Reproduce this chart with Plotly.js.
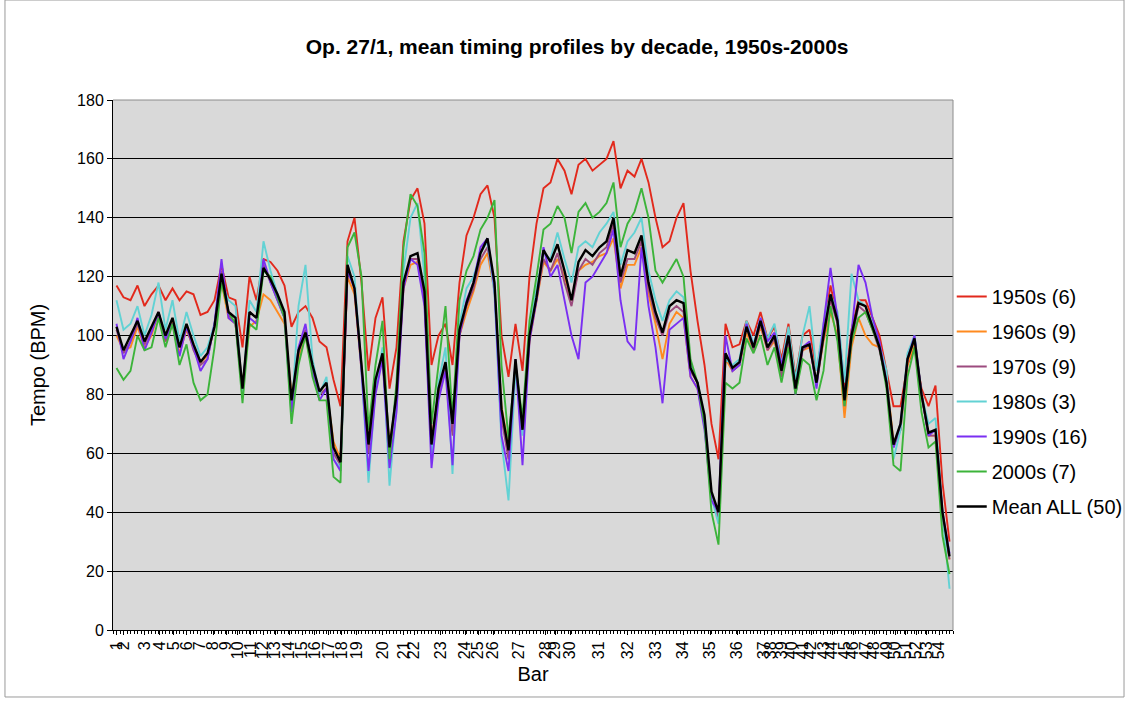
<!DOCTYPE html>
<html><head><meta charset="utf-8">
<script src="https://cdn.plot.ly/plotly-3.0.1.min.js"></script>
<style>body{margin:0;background:#fff}#chart{width:1125px;height:701px}</style>
</head><body><div id="chart"></div>
<script>
// Bar numbers and the beat position at which each bar starts
const barNumbers = [1,2,3,4,5,6,7,8,9,10,11,12,13,14,15,16,17,18,19,20,21,22,23,24,25,26,27,28,29,30,31,32,33,34,35,36,37,38,39,40,41,42,43,44,45,46,47,48,49,50,51,52,53,54];
const barStarts = [1.1,3.1,9.1,13.4,17.4,21.1,24.9,28.6,32.3,35.7,39.4,42.9,46.3,50.3,54,57.7,61.7,65.4,69.7,77.1,83.1,86,93.7,100.6,104.3,108.6,116,123.7,126.3,130.6,138.9,147.1,155.1,162.9,170.6,178.3,186,188,191,194,197,199.5,203,205.5,209,211.5,215,217.5,221,223.5,226.5,229.5,232.5,236];

const s1950 = [117,113,112,117,110,114,117,112,116,112,115,114,107,108,112,124,113,112,96,120,112,126,125,122,117,103,108,110,106,98,96,85,76,
132,140,118,88,106,113,82,96,132,146,150,138,90,100,104,90,118,134,140,148,151,140,100,86,104,88,120,138,150,152,160,156,148,158,160,156,158,160,166,150,156,154,160,152,140,130,132,140,145,122,105,90,70,58,
104,96,97,105,100,108,99,103,92,104,86,100,102,88,102,117,106,82,102,112,112,106,100,88,76,76,90,96,82,76,83,50,30];
const s1960 = [100,95,96,103,96,100,108,98,105,94,102,96,91,93,103,118,106,104,83,103,105,114,112,108,104,80,92,100,88,80,82,64,58,
120,114,88,64,84,92,63,78,116,124,125,112,65,80,90,72,100,108,115,124,128,115,76,62,90,70,98,112,125,122,126,120,112,122,124,125,127,128,133,116,124,124,130,114,104,92,104,108,106,86,82,70,46,38,
92,88,90,101,95,103,95,98,88,98,82,95,96,84,98,108,100,72,96,106,100,97,96,86,64,68,90,98,80,66,66,38,24];
const s1970 = [102,94,98,104,97,102,107,98,104,96,103,95,90,92,104,122,107,104,80,108,106,124,118,112,106,76,94,102,89,80,82,60,56,
122,117,90,60,84,94,60,79,118,126,126,112,60,80,90,66,100,110,116,126,130,116,72,58,90,68,100,112,126,122,128,118,110,122,126,124,128,130,138,118,126,126,132,116,106,100,108,110,108,88,84,70,45,38,
94,88,90,103,95,104,95,99,86,99,80,95,97,83,99,112,104,76,98,110,108,102,95,84,62,68,92,99,80,66,66,38,24];
const s1980 = [112,102,104,110,100,107,118,102,112,98,108,100,93,96,104,118,112,110,80,112,108,132,122,114,106,73,110,124,92,80,86,58,55,
127,120,88,50,82,96,49,76,122,140,145,120,58,84,96,53,104,116,120,128,132,114,64,44,88,66,102,116,128,126,135,126,118,130,132,130,135,138,142,124,132,135,140,122,112,105,112,115,113,90,84,72,45,36,
92,90,92,105,97,106,99,104,90,103,85,100,110,88,104,114,108,84,121,112,110,104,97,88,58,68,94,100,80,70,72,40,14];
const s1990 = [104,92,98,106,95,101,108,99,104,93,103,96,88,92,104,126,106,104,82,106,104,126,118,112,106,74,96,104,88,78,82,58,54,
122,116,88,54,80,92,55,74,116,126,124,110,55,78,88,56,100,112,118,130,133,116,66,54,92,56,98,112,130,120,124,112,100,92,118,120,124,128,136,112,98,95,130,110,96,77,102,104,106,86,82,68,44,40,
100,88,90,104,96,106,98,101,90,100,80,96,98,82,104,123,106,78,102,124,118,106,98,84,62,70,92,100,80,66,68,40,26];
const s2000 = [89,85,88,100,95,96,106,96,104,90,97,84,78,80,96,118,108,104,77,104,102,122,120,113,106,70,90,100,86,78,78,52,50,
130,135,120,68,90,105,58,84,130,148,144,128,70,90,110,72,112,122,127,136,140,146,90,65,90,72,105,120,136,138,144,140,128,142,145,140,142,145,152,130,138,142,150,140,122,118,122,126,120,92,84,70,40,29,
84,82,84,99,94,100,90,96,84,96,80,92,90,78,88,110,98,76,98,106,108,102,96,82,56,54,86,96,74,62,64,32,19];
const meanAll = [103,95,100,105,98,103,108,100,106,96,104,97,91,94,103,121,108,106,82,108,106,123,119,114,108,78,95,101,90,81,84,62,57,
124,116,90,63,85,94,62,80,118,127,128,115,63,82,91,70,102,111,118,128,133,118,75,61,92,68,100,113,129,125,131,122,112,125,129,127,130,132,140,120,129,128,134,118,108,101,110,112,111,89,84,73,47,40,
94,89,91,103,96,105,96,100,88,100,82,96,97,84,100,114,105,78,100,111,110,103,96,84,63,70,92,99,80,67,68,40,25];

const seriesNames = ['1950s (6)','1960s (9)','1970s (9)','1980s (3)','1990s (16)','2000s (7)','Mean ALL (50)'];
const seriesData = [s1950,s1960,s1970,s1980,s1990,s2000,meanAll];
const seriesColors = ['#e2291c','#ff8a1f','#9c4b7e','#62d2d4','#7a2ff2','#3cb43a','#000000'];

// sample positions (beat index) for the readings
const beatIndex = [];
for (let k = 0; k < meanAll.length; k++) beatIndex.push(1 + 2*k);

const traces = seriesData.map((ys, i) => ({
  type: 'scatter', mode: 'lines', x: beatIndex, y: ys, name: seriesNames[i],
  legendgroup: 'g' + i,
  line: {color: seriesColors[i], width: i === 6 ? 2.4 : 1.9},
  hoverinfo: 'skip'
}));

const F = '"Liberation Sans", Arial, Helvetica, sans-serif';
const layout = {
  width: 1125, height: 701,
  margin: {l: 113, r: 172, t: 100, b: 71, autoexpand: false},
  paper_bgcolor: '#ffffff', plot_bgcolor: '#d9d9d9',
  font: {family: F, color: '#000', size: 16},
  title: {text: 'Op. 27/1, mean timing profiles by decade, 1950s-2000s', font: {family: F, size: 21, weight: 'bold'}, x: 0.513, xanchor: 'center', y: 0.934, yanchor: 'middle'},
  showlegend: true,
  legend: {x: 0.9985, xanchor: 'left', y: 0.431, yanchor: 'middle', font: {family: F, size: 20}, tracegroupgap: 6, bgcolor: 'rgba(0,0,0,0)', itemwidth: 30},
  xaxis: {
    range: [0, 240], showgrid: false, zeroline: false, automargin: false,
    showline: true, linecolor: '#000', linewidth: 1,
    tickmode: 'array', tickvals: barStarts, ticktext: barNumbers.map(String),
    tickangle: -90, ticks: 'outside', ticklen: 4, tickcolor: '#000', tickfont: {family: F, size: 16},
    minor: {tickmode: 'linear', tick0: 0, dtick: 1, ticks: 'outside', ticklen: 3, tickcolor: '#000', showgrid: false},
    title: {text: 'Bar', font: {family: F, size: 20}, standoff: 8}
  },
  yaxis: {
    range: [0, 180], dtick: 20, tick0: 0, showgrid: true, gridcolor: '#000', gridwidth: 1,
    zeroline: false, showline: true, linecolor: '#000', linewidth: 1, automargin: false,
    ticks: 'outside', ticklen: 5, tickcolor: '#000', tickfont: {family: F, size: 16},
    title: {text: 'Tempo (BPM)', font: {family: F, size: 20}, standoff: 26}
  },
  shapes: [
    {type: 'line', xref: 'paper', yref: 'paper', x0: 0, x1: 1, y0: 1, y1: 1, line: {color: '#8c8c8c', width: 1}},
    {type: 'line', xref: 'paper', yref: 'paper', x0: 1, x1: 1, y0: 0, y1: 1, line: {color: '#8c8c8c', width: 1}},
    {type: 'rect', xref: 'paper', yref: 'paper', x0: -0.1286, x1: 1.2036, y0: -0.1264, y1: 1.1887, line: {color: '#9a9a9a', width: 1}, layer: 'below'}
  ]
};

Plotly.newPlot('chart', traces, layout, {displayModeBar: false, staticPlot: true});
</script></body></html>
